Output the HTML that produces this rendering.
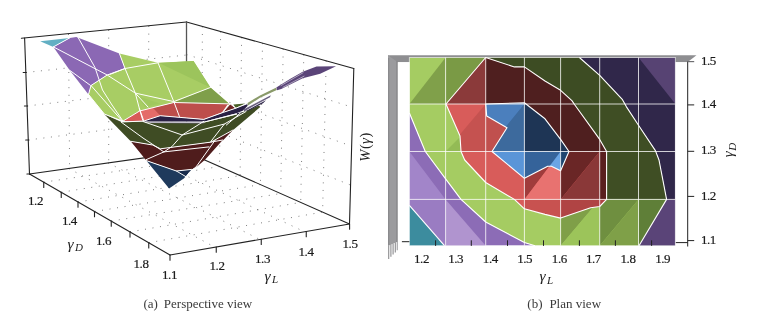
<!DOCTYPE html>
<html lang="en">
<head>
<meta charset="utf-8">
<title>Figure: W(γ) surface — perspective and plan views</title>
<style>
html,body{margin:0;padding:0;background:#fff;}
body{width:773px;height:320px;overflow:hidden;font-family:"Liberation Serif",serif;}
svg{display:block;}
</style>
</head>
<body>
<svg width="773" height="320" viewBox="0 0 773 320">
<rect width="773" height="320" fill="#fff"/>
<g id="left">
<g stroke="#5f5f5f" stroke-width="1" stroke-dasharray="1 6.6" fill="none" stroke-opacity="0.8">
<line x1="25.8" y1="72.5" x2="186.5" y2="55.0"/>
<line x1="27.1" y1="106.0" x2="186.6" y2="87.0"/>
<line x1="28.3" y1="140.0" x2="186.6" y2="119.4"/>
<line x1="68.5" y1="34.0" x2="69.6" y2="168.5"/>
<line x1="108.7" y1="30.0" x2="108.7" y2="162.9"/>
<line x1="148.8" y1="26.0" x2="148.2" y2="157.4"/>
<line x1="202.4" y1="26.4" x2="201.8" y2="158.6"/>
<line x1="220.6" y1="31.5" x2="219.6" y2="166.5"/>
<line x1="241.6" y1="37.3" x2="240.1" y2="175.6"/>
<line x1="262.5" y1="43.1" x2="260.4" y2="184.6"/>
<line x1="283.2" y1="48.9" x2="280.7" y2="193.5"/>
<line x1="303.8" y1="54.6" x2="300.7" y2="202.4"/>
<line x1="326.2" y1="60.8" x2="322.6" y2="212.1"/>
<line x1="186.5" y1="54.5" x2="352.7" y2="107.4"/>
<line x1="186.6" y1="87.0" x2="351.6" y2="146.2"/>
<line x1="186.6" y1="119.4" x2="350.6" y2="185.1"/>
<line x1="43.75" y1="182.2" x2="201.8" y2="158.6"/>
<line x1="61.25" y1="192.3" x2="219.6" y2="166.5"/>
<line x1="78.0" y1="202.0" x2="240.1" y2="175.6"/>
<line x1="94.5" y1="211.5" x2="260.4" y2="184.6"/>
<line x1="111.25" y1="221.1" x2="280.7" y2="193.5"/>
<line x1="130.0" y1="231.9" x2="300.7" y2="202.4"/>
<line x1="148.75" y1="242.7" x2="322.6" y2="212.1"/>
<line x1="68.8" y1="168.5" x2="214.9" y2="247.2"/>
<line x1="108.0" y1="162.9" x2="259.8" y2="239.5"/>
<line x1="147.3" y1="157.4" x2="304.6" y2="231.8"/>
</g>
<g stroke="#222" stroke-width="1.1" fill="none" stroke-linecap="round">
<line x1="21.4" y1="38.3" x2="186.5" y2="22.0"/>
<line x1="186.5" y1="22.0" x2="353.8" y2="68.5"/>
<line x1="24.6" y1="38.0" x2="29.5" y2="174.0"/>
<line x1="353.8" y1="68.5" x2="349.5" y2="224.0"/>
<line x1="29.5" y1="174.0" x2="170.0" y2="255.0"/>
<line x1="170.0" y1="255.0" x2="349.5" y2="224.0"/>
<line x1="29.5" y1="174.0" x2="186.6" y2="151.9"/>
<line x1="186.6" y1="151.9" x2="349.5" y2="224.0"/>
<line x1="186.5" y1="22.0" x2="186.6" y2="151.9" stroke="#555" stroke-width="1.3"/>
<line x1="23.2" y1="72.5" x2="26.3" y2="72.5"/>
<line x1="24.4" y1="106.0" x2="27.6" y2="106.0"/>
<line x1="25.7" y1="140.0" x2="28.8" y2="140.0"/>
<line x1="26.9" y1="174.0" x2="30.0" y2="174.0"/>
<line x1="43.75" y1="182.2" x2="43.75" y2="187.4"/>
<line x1="61.25" y1="192.3" x2="61.25" y2="197.5"/>
<line x1="78.0" y1="202.0" x2="78.0" y2="207.2"/>
<line x1="94.5" y1="211.5" x2="94.5" y2="216.7"/>
<line x1="111.25" y1="221.1" x2="111.25" y2="226.3"/>
<line x1="130.0" y1="231.9" x2="130.0" y2="237.1"/>
<line x1="148.75" y1="242.7" x2="148.75" y2="247.9"/>
<line x1="170.0" y1="255.0" x2="170.0" y2="260.2"/>
<line x1="216.25" y1="247.0" x2="216.25" y2="252.2"/>
<line x1="261.25" y1="239.2" x2="261.25" y2="244.4"/>
<line x1="306.25" y1="231.5" x2="306.25" y2="236.7"/>
<line x1="349.6" y1="224.0" x2="349.6" y2="229.2"/>
</g>
<polygon points="40.2,41.2 69.7,37.9 53.4,46.9" fill="#62afc3" />
<polygon points="53.4,46.9 69.7,37.9 76.3,37.1 119.4,53.4 125.0,68.5 107.2,75.0 91.0,85.5 88.5,94.4 69.7,70.3" fill="#8b68b4" />
<polygon points="119.4,53.4 158.0,62.8 193.5,60.9 210.4,87.5 230.0,104.4 173.8,102.5 140.0,111.0 123.1,121.3 104.4,114.1 88.5,94.4 91.0,85.5 107.2,75.0 125.0,68.5" fill="#a8cd64" />
<polygon points="159.0,63.0 193.5,60.9 210.4,87.5" fill="#9cc45c" />
<polygon points="173.8,102.5 210.4,87.5 230.0,104.4" fill="#7f9f4a" />
<polygon points="137.0,96.0 160.0,103.5 145.0,107.0" fill="#a0c85e" />
<polygon points="123.3,120.9 139.6,111.0 173.8,102.5 230.2,103.9 227.6,104.6 222.0,112.4 203.8,119.3 160.2,115.7 143.9,120.9" fill="#bd4e4b" />
<polygon points="123.5,120.8 139.8,111.0 143.9,120.8" fill="#d85a58" />
<polygon points="139.8,111.0 152.7,107.6 160.2,115.7 143.9,120.8" fill="#e46b69" />
<polygon points="230.2,103.8 235.8,108.2 223.2,112.2" fill="#6e2424" />
<polygon points="233.3,104.4 245.2,103.4 235.8,108.0" fill="#4a6028" />
<polygon points="104.1,114.1 121.4,122.0 143.9,121.6 203.8,122.4 237.0,114.4 259.0,105.6 260.3,107.0 227.2,135.0 222.8,140.0 210.3,142.2 170.2,147.5 160.5,148.8 152.6,145.0 130.7,141.3" fill="#3f4c24" />
<polygon points="143.9,121.0 160.2,115.7 203.8,119.4 223.2,112.4 235.8,108.2 247.1,103.8 247.7,105.7 242.7,110.7 236.4,113.2 203.8,121.8 145.8,122.0" fill="#2a2145" />
<polygon points="130.7,141.3 152.6,145.0 160.5,148.8 170.2,147.5 210.3,142.2 222.8,140.0 227.2,135.0 205.3,159.4 196.5,167.0 191.5,169.4 176.4,171.0 146.3,160.5" fill="#4f1c1c" />
<polygon points="146.3,160.6 176.4,171.0 191.5,169.4 185.2,177.6 169.1,188.5" fill="#1f3a5c" />
<polygon points="211.4,141.9 233.5,129.5 222.8,140.4" fill="#4f1c1c" />
<polygon points="150.0,121.9 203.8,122.0 203.8,123.5 150.0,123.0" fill="#6a6080" />
<polygon points="247.1,103.3 260.0,95.4 275.9,87.8 276.8,90.1 260.0,97.7 248.0,105.6" fill="#8a9a6a" />
<polygon points="243.5,109.6 257.0,102.4 270.8,95.2 270.0,97.2 257.0,104.2 244.2,111.4" fill="#6a6080" />
<polygon points="236.4,113.3 244.5,112.0 257.0,105.0 266.0,100.3 263.0,103.2 250.0,109.9 237.0,114.6" fill="#2a2145" />
<polygon points="276.3,87.5 290.0,79.0 302.7,71.8 316.5,66.5 336.0,66.2 320.2,73.7 302.7,78.2 281.3,88.9 277.0,90.3" fill="#5a4478" />
<polygon points="176.4,171.2 191.5,169.6 185.6,176.6" fill="#172b4c" />
<g stroke="#fff" stroke-width="1" fill="none" stroke-linecap="round" stroke-linejoin="round">
<polyline points="69.7,37.9 53.4,46.9"/>
<polyline points="53.4,46.9 107.2,75.0 135.3,93.1 173.8,101.6 210.4,87.5"/>
<polyline points="78.1,37.5 95.0,67.5 102.5,90.0 112.0,105.0 123.1,121.3"/>
<polyline points="69.7,70.3 90.3,85.3"/>
<polyline points="125.0,68.5 107.2,75.0 91.0,85.5 88.5,94.4"/>
<polyline points="110.0,74.4 125.0,68.5 158.0,62.8"/>
<polyline points="119.4,53.4 125.0,68.5 135.3,93.1 140.0,111.0 142.8,120.3"/>
<polyline points="158.0,62.8 173.8,101.6 179.4,116.5"/>
<polyline points="135.3,93.1 148.0,107.0"/>
<polyline points="88.5,94.4 104.4,114.1 123.1,121.3"/>
<polyline points="91.0,85.5 122.5,121.3"/>
<polyline points="123.3,120.9 139.6,111.0 173.8,102.5 230.2,103.9"/>
<polyline points="121.4,122.0 143.9,121.0 160.2,115.7 203.8,119.4 223.2,112.4 235.8,108.2 247.1,103.7"/>
<polyline points="145.8,122.0 203.8,122.2 236.6,113.9"/>
<polyline points="230.2,103.9 222.5,112.4"/>
<polyline points="230.2,103.9 235.8,108.2"/>
<polyline points="139.4,108.5 143.7,120.8"/>
<polyline points="281,85.6 303,72.8" stroke-width="0.5"/>
<polyline points="283,87.2 304,76.2" stroke-width="0.5"/>
<polyline points="143.0,121.5 182.2,135.0 203.8,121.3"/>
<polyline points="182.2,135.0 224.4,124.0 246.0,111.5"/>
<polyline points="182.2,135.0 171.9,146.6 163.9,151.9"/>
<polyline points="121.4,122.3 143.0,138.0 163.9,151.9"/>
<polyline points="210.3,142.2 224.4,124.0"/>
<polyline points="240.2,113.2 226.4,125.0"/>
<polyline points="130.7,141.3 152.6,145.0 160.5,148.8 170.2,147.5 210.3,142.2 222.8,140.0"/>
<polyline points="146.3,159.6 163.9,151.9 209.0,146.9"/>
<polyline points="211.4,141.9 233.0,130.0"/>
<polyline points="215.3,140.0 196.0,167.0 190.2,171.4 185.2,177.6"/>
<polyline points="146.3,160.6 176.4,171.0 191.5,169.4"/>
<polyline points="176.4,171.0 185.8,176.6"/>
</g>
<g font-family="'Liberation Serif', serif" font-size="13px" letter-spacing="-0.45" fill="#1a1a1a" stroke="#1a1a1a" stroke-width="0.2" text-anchor="middle">
<text x="35.5" y="205.29999999999998">1.2</text>
<text x="69.4" y="225.29999999999998">1.4</text>
<text x="103.5" y="245.2">1.6</text>
<text x="141.0" y="268.09999999999997">1.8</text>
<text x="169.5" y="278.8">1.1</text>
<text x="217.0" y="270.2">1.2</text>
<text x="262.5" y="263.0">1.3</text>
<text x="306.0" y="255.5">1.4</text>
<text x="350.0" y="247.7">1.5</text>
</g>
<g font-family="'Liberation Serif', serif" font-style="italic" fill="#222">
<text x="67.5" y="248.5" font-size="15.5px">γ<tspan font-size="11px" dy="2.8" dx="1.4">D</tspan></text>
<text x="264.5" y="280.5" font-size="15.5px">γ<tspan font-size="11px" dy="2.8" dx="1.4">L</tspan></text>
<text transform="translate(370.3,161.8) rotate(-90)" font-size="14.5px">W<tspan font-style="normal" font-size="14.5px" dx="0.6">(</tspan><tspan font-size="15px" dx="0.3">γ</tspan><tspan font-style="normal" font-size="14.5px" dx="0.6">)</tspan></text>
</g>
<text y="307.8" font-family="'Liberation Serif', serif" font-size="13px" fill="#3a3a3a"><tspan x="143.4">(a)</tspan><tspan x="163.8">Perspective view</tspan></text>
</g>
<g id="right">
<defs>
<clipPath id="cg"><polygon points="409.4,57.5 579.4,57.5 599.7,75.3 622.5,99.7 626.3,106.6 638.5,125.3 655.4,150.6 659.0,160.0 666.6,199.4 639.0,245.7 535.0,245.7 524.4,242.5 485.7,222.0 461.0,199.4 445.6,178.8 425.3,151.5 409.4,113.0"/></clipPath>
<clipPath id="cr"><polygon points="485.7,57.5 446.0,104.0 460.0,136.0 461.0,151.5 464.7,160.0 485.7,182.5 514.4,199.4 524.4,208.8 545.0,214.4 560.6,218.1 590.6,207.8 599.7,206.5 606.6,199.4 606.6,151.5 599.7,139.4 574.7,104.7 571.9,100.6 560.6,90.3 545.0,81.0 524.4,66.9 514.4,66.9"/></clipPath>
<clipPath id="cb"><polygon points="485.7,104.0 524.4,102.8 545.0,118.8 560.6,139.4 569.0,151.5 560.6,170.7 551.4,166.3 547.7,166.3 524.4,178.3 492.0,151.5 507.0,127.8 486.7,116.0"/></clipPath>
<clipPath id="cp"><polygon points="409.4,113.0 425.3,151.5 445.6,178.8 461.0,199.4 485.7,222.0 524.4,242.5 535.0,245.7 444.5,245.7 409.4,205.4"/></clipPath>
<clipPath id="cd"><polygon points="579.4,57.5 599.7,75.3 622.5,99.7 626.3,106.6 638.5,125.3 655.4,150.6 659.0,160.0 666.6,199.4 639.0,245.7 675.4,245.7 675.4,57.5"/></clipPath>
</defs>
<g id="frame">
<polygon points="388.0,55.2 696.5,55.2 687.4,62.2 388.0,62.2" fill="#8e8e91" />
<polygon points="388.0,55.2 397.8,62.2 397.8,241.5 388.0,246.0" fill="#9b9b9e" />
<rect x="388" y="58" width="1.3" height="187" fill="#8a8a8d"/>
<rect x="396.3" y="61" width="1.5" height="181" fill="#88888b"/>
<line x1="388.7" y1="245.6" x2="388.7" y2="259.0" stroke="#8c8c8f" stroke-width="1.1"/>
<line x1="390.9" y1="244.5" x2="390.9" y2="256.8" stroke="#8c8c8f" stroke-width="1.1"/>
<line x1="393.1" y1="243.4" x2="393.1" y2="254.6" stroke="#8c8c8f" stroke-width="1.1"/>
<line x1="395.3" y1="242.3" x2="395.3" y2="252.4" stroke="#8c8c8f" stroke-width="1.1"/>
<line x1="397.3" y1="241.2" x2="397.3" y2="250.2" stroke="#8c8c8f" stroke-width="1.1"/>
<rect x="397.8" y="62.2" width="12" height="190" fill="#fff"/>
<rect x="675" y="62.2" width="30" height="190" fill="#fff"/>
</g>
<polygon points="409.4,205.4 444.5,245.7 409.4,245.7" fill="#3c8c9e" />
<g clip-path="url(#cp)">
<polygon points="409.4,57.5 675.4,57.5 675.4,245.7 409.4,245.7" fill="#8c6cb6" />
<polygon points="409.4,151.5 445.6,199.4 409.4,199.4" fill="#a285c9" />
<polygon points="409.4,199.4 445.6,199.4 445.6,245.7 409.4,245.7" fill="#9a7cc2" />
<polygon points="445.6,199.4 485.7,245.7 445.6,245.7" fill="#b094cf" />
</g>
<g clip-path="url(#cg)">
<polygon points="409.4,57.5 675.4,57.5 675.4,245.7 409.4,245.7" fill="#a5cc62" />
<polygon points="445.6,57.5 445.6,104.0 409.4,104.0" fill="#80a04a" />
<polygon points="445.6,57.5 485.7,57.5 445.6,104.0" fill="#7a9a45" />
<polygon points="485.7,57.5 675.4,57.5 675.4,104.0 485.7,104.0" fill="#3d4c23" />
<polygon points="560.6,104.0 675.4,104.0 675.4,199.4 560.6,199.4" fill="#3f4e24" />
<polygon points="445.6,151.5 461.0,136.0 461.0,151.5" fill="#93bb55" />
<polygon points="560.6,199.4 599.7,199.4 560.6,245.7" fill="#7f9f48" />
<polygon points="599.7,199.4 599.7,245.7 560.6,245.7" fill="#9cc45a" />
<polygon points="599.7,199.4 638.5,199.4 599.7,245.7" fill="#6f8f40" />
<polygon points="638.5,199.4 638.5,245.7 599.7,245.7" fill="#7fa048" />
<polygon points="638.5,199.4 675.4,199.4 675.4,245.7 638.5,245.7" fill="#5f7f38" />
</g>
<g clip-path="url(#cr)">
<polygon points="409.4,57.5 675.4,57.5 675.4,245.7 409.4,245.7" fill="#d85c5a" />
<polygon points="485.7,57.5 485.7,104.0 445.6,104.0" fill="#8b3a3a" />
<polygon points="485.7,104.0 485.7,151.5 445.6,151.5" fill="#c55250" />
<polygon points="485.7,104.0 524.4,104.0 524.4,151.5 485.7,151.5" fill="#c0504e" />
<polygon points="485.7,57.5 675.4,57.5 675.4,104.0 485.7,104.0" fill="#4f1f1f" />
<polygon points="524.4,104.0 675.4,104.0 675.4,151.5 524.4,151.5" fill="#4f1f1f" />
<polygon points="524.4,151.5 560.6,151.5 524.4,199.4" fill="#a03c3c" />
<polygon points="560.6,151.5 560.6,199.4 524.4,199.4" fill="#e87270" />
<polygon points="560.6,151.5 599.7,151.5 560.6,199.4" fill="#6a2626" />
<polygon points="599.7,151.5 599.7,199.4 560.6,199.4" fill="#8a3838" />
<polygon points="599.7,151.5 675.4,151.5 675.4,199.4 599.7,199.4" fill="#5a1f1f" />
<polygon points="524.4,199.4 560.6,199.4 560.6,245.7 524.4,245.7" fill="#c85250" />
<polygon points="560.6,199.4 675.4,199.4 675.4,245.7 560.6,245.7" fill="#b04444" />
</g>
<g clip-path="url(#cb)">
<polygon points="409.4,57.5 675.4,57.5 675.4,245.7 409.4,245.7" fill="#3f6fa8" />
<polygon points="485.7,104.0 524.4,104.0 485.7,151.5" fill="#4b7fbd" />
<polygon points="524.4,104.0 524.4,151.5 485.7,151.5" fill="#3d6a9d" />
<polygon points="524.4,57.5 675.4,57.5 675.4,151.5 524.4,151.5" fill="#1e3555" />
<polygon points="485.7,151.5 524.4,151.5 524.4,199.4 485.7,199.4" fill="#5a95d8" />
<polygon points="524.4,151.5 560.6,151.5 560.6,199.4 524.4,199.4" fill="#35639a" />
<polygon points="560.6,151.5 560.6,199.4 524.4,199.4" fill="#6aa5e5" />
<polygon points="560.6,151.5 675.4,151.5 675.4,199.4 560.6,199.4" fill="#1e4570" />
</g>
<g clip-path="url(#cd)">
<polygon points="409.4,57.5 675.4,57.5 675.4,245.7 409.4,245.7" fill="#30274a" />
<polygon points="638.5,57.5 675.4,57.5 675.4,104.0" fill="#574373" />
<polygon points="599.7,199.4 675.4,199.4 675.4,245.7 599.7,245.7" fill="#5a4478" />
</g>
<g stroke="#fff" stroke-width="1" fill="none" stroke-opacity="0.78">
<line x1="445.6" y1="57.5" x2="445.6" y2="245.7"/>
<line x1="485.7" y1="57.5" x2="485.7" y2="245.7"/>
<line x1="524.4" y1="57.5" x2="524.4" y2="245.7"/>
<line x1="560.6" y1="57.5" x2="560.6" y2="245.7"/>
<line x1="599.7" y1="57.5" x2="599.7" y2="245.7"/>
<line x1="638.5" y1="57.5" x2="638.5" y2="245.7"/>
<line x1="409.4" y1="104.0" x2="675.4" y2="104.0"/>
<line x1="409.4" y1="151.5" x2="675.4" y2="151.5"/>
<line x1="409.4" y1="199.4" x2="675.4" y2="199.4"/>
<rect x="409.4" y="57.5" width="266.0" height="188.2" stroke-opacity="0.6"/>
</g>
<g stroke="#fff" stroke-width="1.1" fill="none" stroke-linejoin="round">
<polyline points="409.4,205.4 444.5,245.7"/>
<polyline points="409.4,113.0 425.3,151.5 445.6,178.8 461.0,199.4 485.7,222.0 524.4,242.5 535.0,245.7"/>
<polygon points="485.7,57.5 446.0,104.0 460.0,136.0 461.0,151.5 464.7,160.0 485.7,182.5 514.4,199.4 524.4,208.8 545.0,214.4 560.6,218.1 590.6,207.8 599.7,206.5 606.6,199.4 606.6,151.5 599.7,139.4 574.7,104.7 571.9,100.6 560.6,90.3 545.0,81.0 524.4,66.9 514.4,66.9"/>
<polygon points="485.7,104.0 524.4,102.8 545.0,118.8 560.6,139.4 569.0,151.5 560.6,170.7 551.4,166.3 547.7,166.3 524.4,178.3 492.0,151.5 507.0,127.8 486.7,116.0"/>
<polyline points="579.4,57.5 599.7,75.3 622.5,99.7 626.3,106.6 638.5,125.3 655.4,150.6 659.0,160.0 666.6,199.4 639.0,245.7"/>
</g>
<g stroke="#222" stroke-width="1">
<line x1="435.6" y1="240.3" x2="435.6" y2="245.9"/>
<line x1="471.3" y1="240.3" x2="471.3" y2="245.9"/>
<line x1="507.5" y1="240.3" x2="507.5" y2="245.9"/>
<line x1="543.5" y1="240.3" x2="543.5" y2="245.9"/>
<line x1="579.4" y1="240.3" x2="579.4" y2="245.9"/>
<line x1="615.4" y1="240.3" x2="615.4" y2="245.9"/>
<line x1="651.6" y1="240.3" x2="651.6" y2="245.9"/>
<line x1="401.9" y1="241.7" x2="409.4" y2="241.7"/>
<line x1="687.7" y1="61.5" x2="687.7" y2="246.5"/>
<line x1="687.7" y1="61.6" x2="694.2" y2="61.6" stroke="#6f6f72" stroke-width="1.2"/>
<line x1="687.7" y1="104.9" x2="694.2" y2="104.9"/>
<line x1="687.7" y1="151.3" x2="694.2" y2="151.3"/>
<line x1="687.7" y1="196.4" x2="694.2" y2="196.4"/>
<line x1="675.8" y1="242.6" x2="687.7" y2="242.6"/>
<line x1="687.7" y1="240.6" x2="694.2" y2="240.6"/>
</g>
<g font-family="'Liberation Serif', serif" font-size="13px" letter-spacing="-0.45" fill="#1a1a1a" stroke="#1a1a1a" stroke-width="0.2">
<text x="421.5" y="263.0" text-anchor="middle">1.2</text>
<text x="455.7" y="263.0" text-anchor="middle">1.3</text>
<text x="490.3" y="263.0" text-anchor="middle">1.4</text>
<text x="524.6" y="263.0" text-anchor="middle">1.5</text>
<text x="559.3" y="263.0" text-anchor="middle">1.6</text>
<text x="593.4" y="263.0" text-anchor="middle">1.7</text>
<text x="628.0" y="263.0" text-anchor="middle">1.8</text>
<text x="662.7" y="263.0" text-anchor="middle">1.9</text>
<text x="701.0" y="65.2">1.5</text>
<text x="701.0" y="108.2">1.4</text>
<text x="701.0" y="154.4">1.3</text>
<text x="701.0" y="199.6">1.2</text>
<text x="701.0" y="243.8">1.1</text>
</g>
<g font-family="'Liberation Serif', serif" font-style="italic" fill="#222">
<text x="539.5" y="281" font-size="15.5px">γ<tspan font-size="11px" dy="2.8" dx="1.4">L</tspan></text>
<text transform="translate(733.2,157.3) rotate(-90)" font-size="15px">γ<tspan font-size="11px" dy="2.8" dx="0.7">D</tspan></text>
</g>
<text y="307.7" font-family="'Liberation Serif', serif" font-size="13px" fill="#3a3a3a"><tspan x="527.3">(b)</tspan><tspan x="549.4">Plan view</tspan></text>
</g>
</svg>
</body>
</html>
